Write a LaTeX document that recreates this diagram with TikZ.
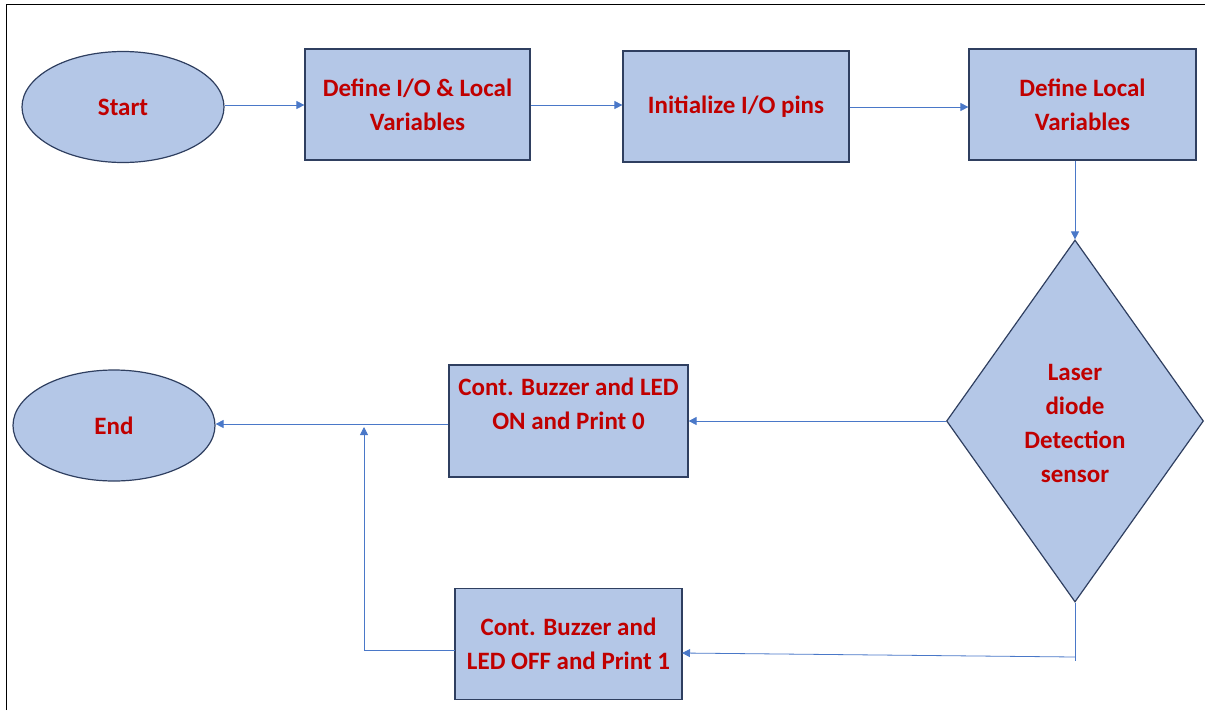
\documentclass[tikz,border=0pt]{standalone}
\usepackage{fontspec}
\setmainfont{Carlito}
\usetikzlibrary{shapes.geometric,arrows.meta}
\definecolor{boxfill}{HTML}{B4C7E7}
\definecolor{boxline}{HTML}{2F3F60}
\definecolor{txtred}{HTML}{C00000}
\definecolor{conn}{HTML}{4A78C8}
\tikzset{
  shapebase/.style={fill=boxfill, draw=boxline, line width=1.2pt, inner sep=0pt,
    text=txtred, font=\bfseries\fontsize{25}{34}\selectfont, align=center},
  stepbox/.style={shapebase, rectangle},
  termbox/.style={shapebase, ellipse},
  decbox/.style={shapebase, diamond},
  lbl/.style={text=txtred, font=\bfseries\fontsize{25}{34}\selectfont, align=center, inner sep=0pt},
  conline/.style={draw=conn, line width=0.8pt},
  arr/.style={conline, -{Triangle[length=8pt,width=8pt]}},
}
\begin{document}
\begin{tikzpicture}[x=1pt,y=-1pt]
\useasboundingbox (0,0) rectangle (1205,710);
% frame
\coordinate (fa) at (6,710);
\coordinate (fb) at (6,4.5);
\coordinate (fc) at (1205,4.5);
\draw[black, line width=1pt] (fa) -- (fb) -- (fc);
% nodes
\node[termbox, minimum width=202, minimum height=111] (start) at (123,107) {Start};
\node[stepbox, minimum width=225, minimum height=111] (b1) at (417.5,104.5) {Define I/O \& Local\\Variables};
\node[stepbox, minimum width=226, minimum height=111] (b2) at (736,106.5) {Initialize I/O pins};
\node[stepbox, minimum width=227, minimum height=111] (b3) at (1082.5,104.5) {Define Local\\Variables};
\node[decbox, minimum width=257, minimum height=362] (dec) at (1075,421) {};
\node[lbl] (dectext) at (1075,423) {Laser\\diode\\Detection\\sensor};
\node[stepbox, minimum width=239, minimum height=112] (on) at (568.5,421) {};
\node[lbl] (ontext) at (568.5,404) {Cont. Buzzer and LED\\ON and Print 0};
\node[stepbox, minimum width=227, minimum height=111] (off) at (568.5,644) {Cont. Buzzer and\\LED OFF and Print 1};
\node[termbox, minimum width=202, minimum height=111] (end) at (114,425.5) {End};
% connectors
\draw[arr] (start.east |- 0,105) -- (b1.west |- 0,105);
\draw[arr] (b1.east |- 0,105) -- (b2.west |- 0,105);
\draw[arr] (b2.east |- 0,107) -- (b3.west |- 0,107);
\draw[arr] (b3.south -| dec.north) -- (dec.north);
\draw[arr] (dec.west) -- (on.east |- dec.west);
\draw[arr] (on.west |- 0,424) -- (end.east |- 0,424);
\coordinate (dbot) at (1075,661);
\coordinate (djoin) at (1075,657);
\coordinate (offin) at (682,653);
\coordinate (offout) at (455,650);
\coordinate (corner) at (364,650);
\coordinate (uptip) at (364,427);
\draw[conline] (dec.south) -- (dbot);
\draw[arr] (djoin) -- (offin);
\draw[arr] (offout) -- (corner) -- (uptip);
\end{tikzpicture}
\end{document}
